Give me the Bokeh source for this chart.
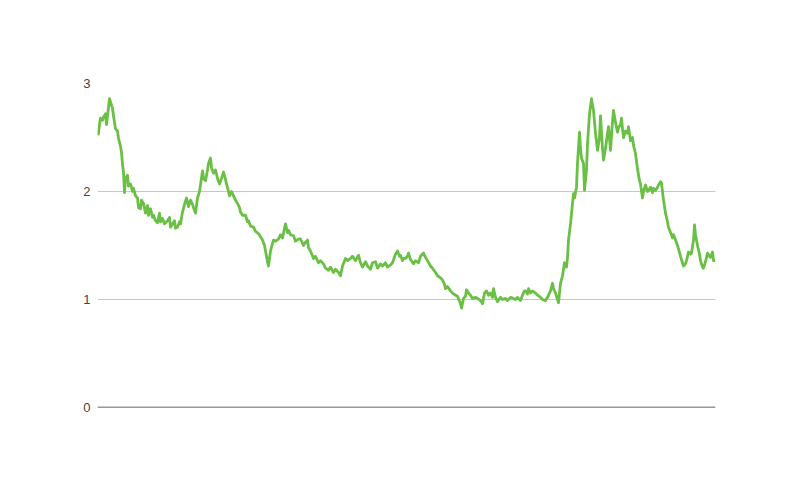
from bokeh.plotting import figure
from bokeh.models import Span, FixedTicker, Range1d
from bokeh.embed import file_html
from bokeh.resources import INLINE

# time position (arbitrary units along the timeline) and value
t = [0.7, 2, 3, 5, 6, 8, 9, 10, 12, 13, 15, 16, 18, 20, 21, 23, 24, 25, 26, 27, 28, 30, 31, 33, 35, 36,
     38, 40, 41, 43, 44, 46, 48, 50, 51, 53, 55, 56, 58, 60, 62, 63, 65, 67, 70, 72, 73, 75, 77, 78,
     80, 82, 83, 85, 87, 89, 91, 93, 95, 96, 98, 100, 102, 103, 105, 106, 108, 110, 111, 113, 114,
     116, 118, 120, 122, 124, 126, 127, 129, 131, 132, 134, 136, 138, 140, 142, 143, 145, 148, 150,
     151, 153, 156, 158, 161, 163, 165, 167, 168, 170, 171, 173, 175, 176, 178, 181, 183, 185, 187,
     188, 190, 191, 193, 196, 198, 201, 203, 206, 208, 210, 211, 213, 216, 218, 221, 223, 226, 228,
     231, 233, 236, 238, 241, 243, 245, 248, 250, 253, 255, 258, 261, 263, 265, 268, 270, 273, 275,
     278, 280, 283, 285, 288, 290, 293, 295, 298, 300, 302, 303, 305, 306, 308, 310, 311, 313, 316,
     318, 321, 323, 326, 328, 330, 333, 335, 338, 340, 343, 345, 347, 348, 350, 353, 355, 358, 360,
     363, 364, 366, 368, 369, 371, 373, 375, 378, 380, 383, 385, 387, 389, 391, 393, 395, 396, 398,
     400, 403, 405, 408, 410, 411, 413, 416, 418, 420, 423, 425, 427, 428, 430, 431, 433, 435, 438,
     440, 443, 445, 448, 450, 453, 455, 456, 458, 460, 461, 463, 465, 467, 469, 470, 471, 473, 475,
     476, 477, 479, 480, 482, 483, 484, 486, 487, 489, 490, 492, 494, 495, 496, 498, 500, 502, 503,
     505, 506, 508, 510, 511, 513, 515, 516, 518, 520, 521, 523, 524, 525, 526, 528, 530, 531, 533,
     535, 536, 538, 540, 542, 543, 545, 546, 548, 550, 551, 553, 555, 556, 558, 560, 561, 563, 564,
     566, 568, 570, 571, 573, 575, 576, 578, 580, 581, 583, 586, 588, 589, 591, 593, 594, 596, 597,
     598, 600, 602, 603, 605, 606, 608, 610, 612, 613, 615, 616, 618]
v = [2.52, 2.62, 2.68, 2.66, 2.69, 2.72, 2.62, 2.70, 2.86, 2.83, 2.77, 2.70, 2.58, 2.56, 2.49, 2.42,
     2.36, 2.25, 2.18, 1.99, 2.12, 2.15, 2.05, 2.07, 2.00, 2.03, 1.96, 1.94, 1.85, 1.84, 1.92, 1.89,
     1.80, 1.87, 1.78, 1.84, 1.76, 1.78, 1.73, 1.71, 1.80, 1.72, 1.75, 1.70, 1.73, 1.76, 1.67, 1.70,
     1.73, 1.66, 1.67, 1.72, 1.70, 1.81, 1.88, 1.94, 1.86, 1.92, 1.88, 1.85, 1.80, 1.94, 2.00, 2.06,
     2.19, 2.12, 2.10, 2.20, 2.26, 2.31, 2.22, 2.17, 2.20, 2.12, 2.07, 2.12, 2.18, 2.15, 2.07, 2.00,
     1.96, 2.00, 1.96, 1.92, 1.89, 1.85, 1.81, 1.78, 1.78, 1.72, 1.73, 1.68, 1.67, 1.63, 1.61, 1.58,
     1.55, 1.50, 1.45, 1.35, 1.31, 1.45, 1.52, 1.55, 1.54, 1.56, 1.60, 1.57, 1.66, 1.70, 1.62, 1.64,
     1.60, 1.59, 1.54, 1.56, 1.56, 1.50, 1.53, 1.55, 1.48, 1.45, 1.38, 1.40, 1.34, 1.36, 1.33, 1.29,
     1.27, 1.30, 1.25, 1.28, 1.25, 1.22, 1.31, 1.38, 1.36, 1.38, 1.40, 1.36, 1.41, 1.34, 1.30, 1.35,
     1.31, 1.28, 1.34, 1.35, 1.29, 1.33, 1.31, 1.34, 1.30, 1.32, 1.34, 1.42, 1.45, 1.40, 1.41, 1.36,
     1.38, 1.38, 1.40, 1.43, 1.37, 1.33, 1.36, 1.34, 1.40, 1.43, 1.39, 1.36, 1.31, 1.29, 1.25, 1.22,
     1.20, 1.18, 1.14, 1.10, 1.12, 1.08, 1.06, 1.04, 1.03, 0.96, 0.92, 1.01, 1.03, 1.09, 1.06, 1.04,
     1.01, 1.02, 1.01, 0.99, 0.96, 1.06, 1.08, 1.04, 1.06, 1.02, 1.10, 1.02, 0.98, 1.02, 1.00, 1.01,
     0.99, 1.00, 1.02, 1.01, 1.00, 1.02, 0.99, 1.04, 1.08, 1.08, 1.05, 1.10, 1.06, 1.08, 1.06, 1.04,
     1.02, 1.00, 0.99, 1.02, 1.08, 1.15, 1.10, 1.06, 1.00, 0.97, 1.15, 1.22, 1.34, 1.30, 1.39, 1.55,
     1.70, 1.89, 1.98, 1.94, 2.04, 2.26, 2.55, 2.40, 2.31, 2.26, 2.01, 2.20, 2.44, 2.72, 2.86, 2.80,
     2.75, 2.54, 2.38, 2.50, 2.70, 2.40, 2.29, 2.40, 2.54, 2.60, 2.38, 2.65, 2.75, 2.64, 2.55, 2.59,
     2.62, 2.68, 2.58, 2.50, 2.56, 2.54, 2.60, 2.47, 2.50, 2.43, 2.35, 2.21, 2.10, 2.07, 1.94, 2.00,
     2.06, 2.00, 2.01, 2.04, 1.99, 2.03, 2.01, 2.04, 2.06, 2.09, 2.08, 1.92, 1.80, 1.72, 1.67, 1.62,
     1.57, 1.60, 1.55, 1.50, 1.47, 1.40, 1.31, 1.33, 1.36, 1.44, 1.42, 1.43, 1.55, 1.69, 1.60, 1.50,
     1.42, 1.36, 1.30, 1.29, 1.35, 1.43, 1.40, 1.39, 1.44, 1.36, 1.36]
y_ticks = [0, 1, 2, 3]

n = min(len(t), len(v))
t = t[:n]
v = v[:n]

p = figure(width=792, height=473, output_backend="svg", toolbar_location=None,
           x_range=Range1d(0, 618), y_range=Range1d(0, 3),
           min_border_left=97, min_border_right=77, min_border_top=83, min_border_bottom=66)
p.outline_line_color = None
p.background_fill_color = "white"
p.border_fill_color = "white"

p.xaxis.visible = False
p.xgrid.grid_line_color = None

p.yaxis.ticker = FixedTicker(ticks=y_ticks)
p.yaxis.axis_line_color = None
p.yaxis.major_tick_line_color = None
p.yaxis.minor_tick_line_color = None
p.yaxis.major_tick_in = 0
p.yaxis.major_tick_out = 0
p.yaxis.major_label_standoff = 7
p.yaxis.major_label_text_font = "Liberation Sans"
p.yaxis.major_label_text_font_size = "13px"
p.yaxis.major_label_text_color = "#444444"
p.ygrid.ticker = FixedTicker(ticks=y_ticks)
p.ygrid.grid_line_color = "#c8c8c8"
p.ygrid.grid_line_width = 1

p.line(t, v, line_color="#6abf45", line_width=2.8, line_join="round")

p.add_layout(Span(location=0, dimension="width", line_color="#333333", line_width=1.6))

open("out.html", "w").write(file_html(p, INLINE))
